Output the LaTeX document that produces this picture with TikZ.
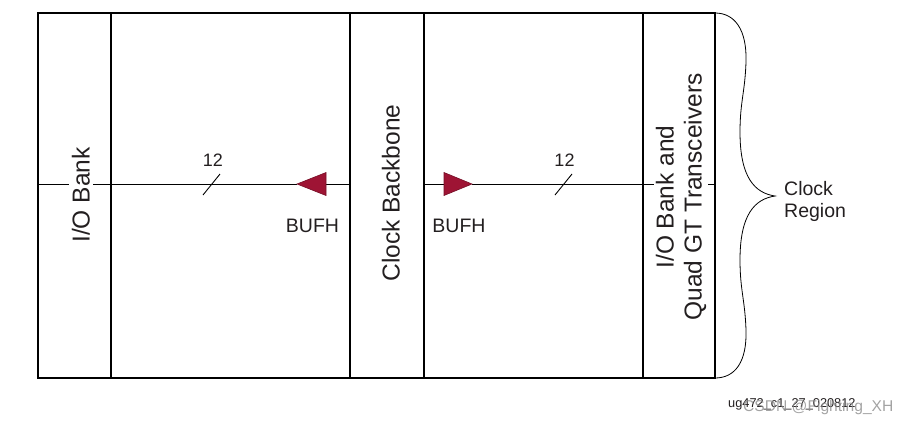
\documentclass[tikz,border=0pt]{standalone}
\usepackage{fontspec}
\setmainfont{Liberation Sans}
\definecolor{bufred}{RGB}{158,20,52}
\definecolor{txt}{RGB}{35,31,32}
\begin{document}
\begin{tikzpicture}[x=1pt,y=-1pt,
  frame/.style={line width=2.6pt, draw=black},
  divider/.style={line width=1.8pt, draw=black},
  sig/.style={line width=0.9pt, draw=black},
  buf/.style={fill=bufred, draw=bufred!75!black, line width=0.6pt, line join=miter},
  lbl/.style={font=\fontsize{19.5}{22}\selectfont, text=txt, inner sep=0pt},
  num/.style={font=\fontsize{18}{20}\selectfont, text=txt, inner sep=0pt},
  coltxt/.style={font=\fontsize{24.5}{28}\selectfont, text=txt, rotate=90, fill=white, inner sep=3pt, align=center},
]
\useasboundingbox (0,0) rectangle (907,432);
% frame and column dividers
\draw[frame] (38,13) rectangle (715,378);
\draw[divider] (111,13) -- (111,378);
\draw[divider] (350,13) -- (350,378);
\draw[divider] (424,13) -- (424,378);
\draw[divider] (643,13) -- (643,378);
% signal coordinates
\coordinate (L) at (38,184);
\coordinate (ltip) at (297,184);
\coordinate (lbase) at (326,184);
\coordinate (bbl) at (350,184);
\coordinate (bbr) at (424,184);
\coordinate (rbase) at (444,184);
\coordinate (rtip) at (472,184);
\coordinate (R) at (715,184);
\draw[sig] (L) -- (ltip);
\draw[sig] (lbase) -- (bbl);
\draw[sig] (bbr) -- (rbase);
\draw[sig] (rtip) -- (R);
% BUFH triangles
\draw[buf] (ltip) -- ++(29,-11.5) -- ++(0,23) -- cycle;
\draw[buf] (rtip) -- ++(-28,-11.5) -- ++(0,23) -- cycle;
% bus width slashes
\draw[sig] (203,195) -- (220,174);
\draw[sig] (555,195) -- (572,174);
\node[num, anchor=base] (n1) at (213,166) {12};
\node[num, anchor=base] (n2) at (564.5,166) {12};
\node[lbl, anchor=base] (b1) at (312.5,232) {BUFH};
\node[lbl, anchor=base] (b2) at (459,232) {BUFH};
% column texts
\node[coltxt, anchor=base] (io) at (89.5,195) {I/O Bank};
\node[coltxt, anchor=base, fill=none] (cb) at (399.5,193) {Clock Backbone};
\node[coltxt, inner sep=2pt] (gt) at (681,197) {I/O Bank and\\Quad GT Transceivers};
% brace
\draw[line width=0.8pt] (715,13) .. controls (735,13) and (747,30) .. (746,62)
  .. controls (745,92) and (740,102) .. (740,132)
  .. controls (740,178) and (755,193) .. (775,196)
  .. controls (755,199) and (740,214) .. (740,260)
  .. controls (740,290) and (745,300) .. (746,330)
  .. controls (747,362) and (735,378) .. (715,378);
\node[lbl, anchor=west, align=left] (cr) at (784,201) {Clock\\Region};
% footer
\node[font=\fontsize{12.8}{14}\selectfont, text=txt, inner sep=0pt, anchor=base west] (fig) at (728,407) {ug472\_c1\_27\_020812};
\node[font=\fontsize{15.6}{17}\selectfont, text=black!45, opacity=0.8, inner sep=0pt, anchor=base west] (wm) at (743,411) {CSDN @Fighting\_XH};
\end{tikzpicture}
\end{document}
